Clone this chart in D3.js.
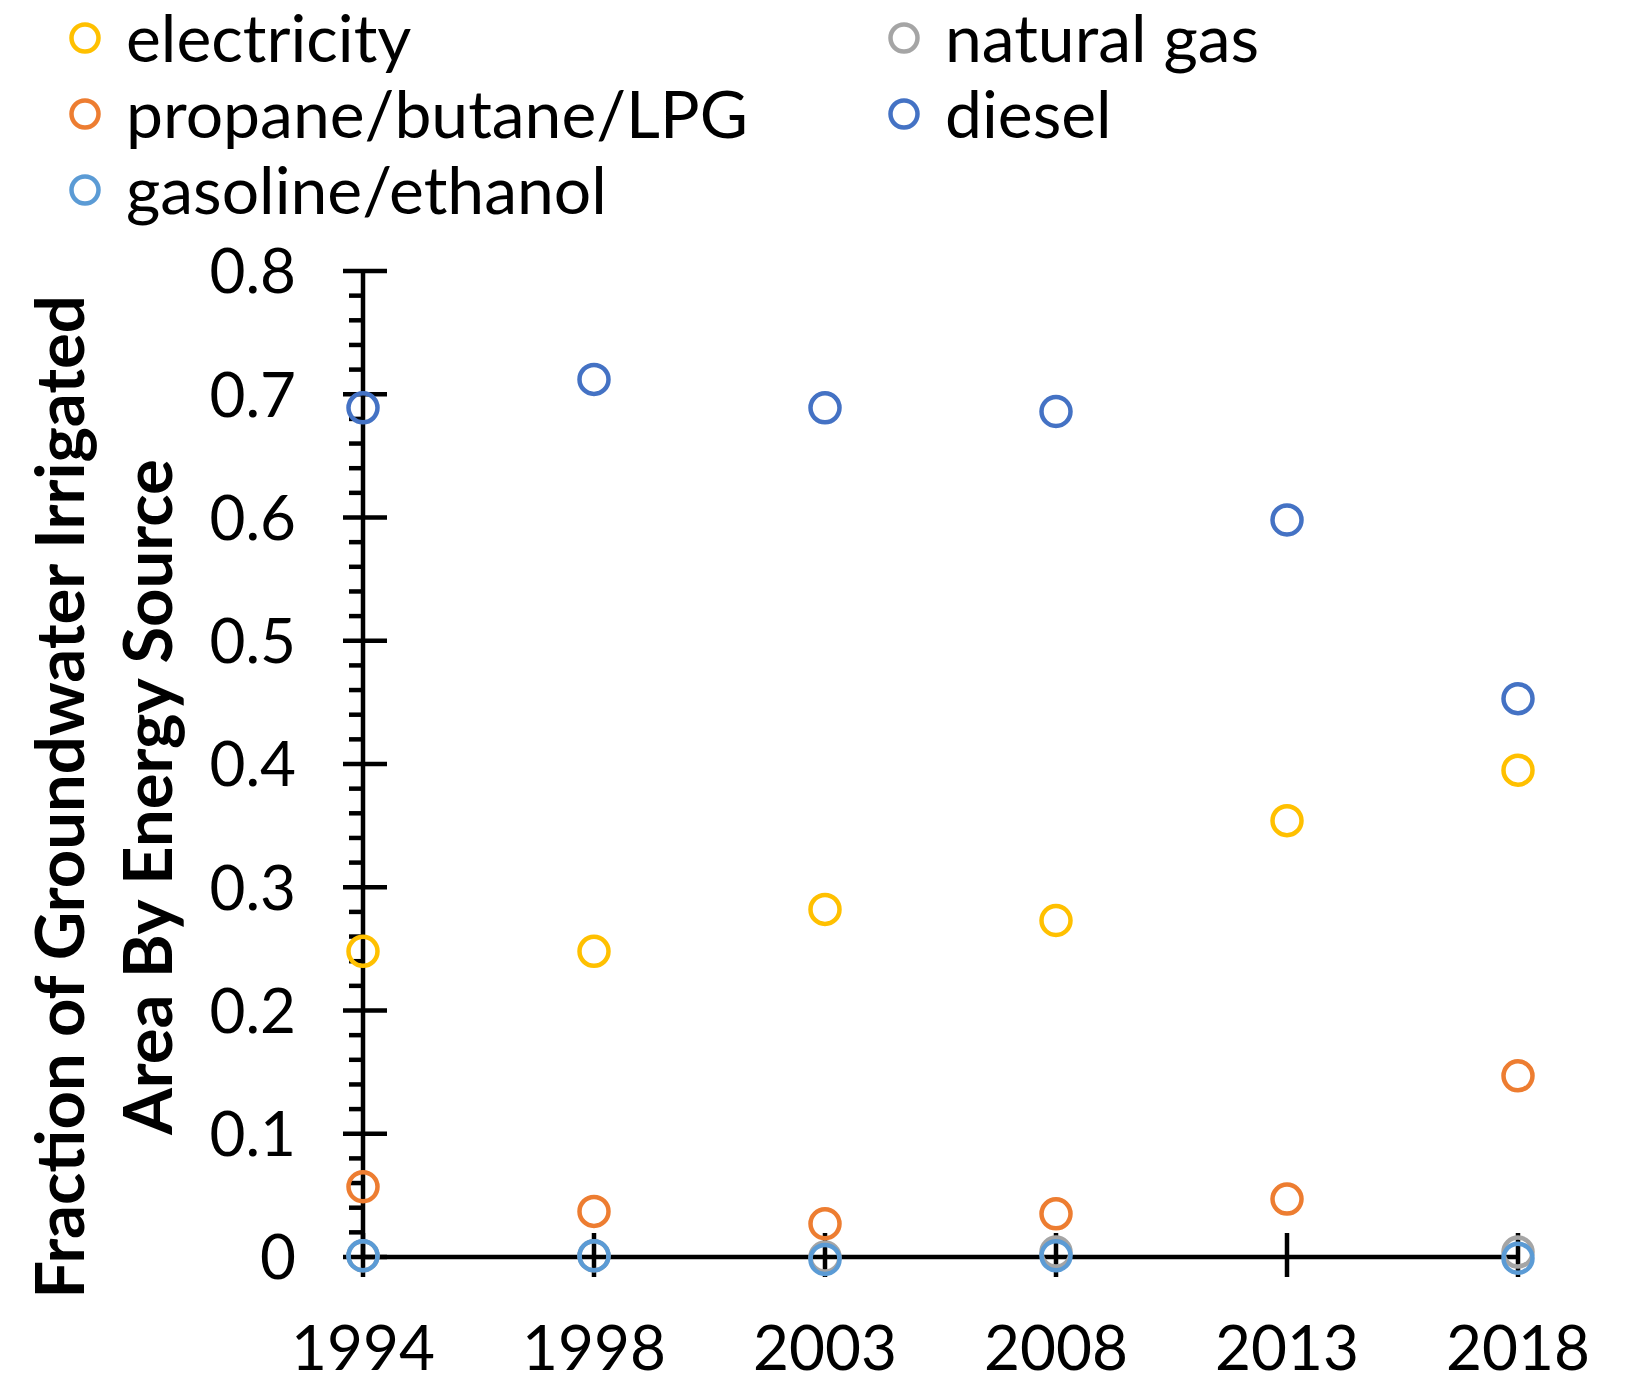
<!DOCTYPE html>
<html>
<head>
<meta charset="utf-8">
<script src="https://cdn.jsdelivr.net/npm/d3@7"></script>
<style>
  body { margin: 0; background: #fff; }
  text { font-family: Lato, "Open Sans", sans-serif; fill: #000; }
</style>
</head>
<body>
<div class="svgcontainer"></div>
<script>
// categories and series values
const years = ["1994", "1998", "2003", "2008", "2013", "2018"];
const electricity = [0.248, 0.248, 0.282, 0.273, 0.354, 0.395];
const naturalGas = [0.001, 0.001, 0.0, 0.004, null, 0.004];
const propane = [0.057, 0.037, 0.027, 0.035, 0.047, 0.147];
const diesel = [0.689, 0.712, 0.689, 0.686, 0.598, 0.453];
const gasoline = [0.001, 0.001, -0.002, 0.001, null, -0.001];
const yTicks = [0, 0.1, 0.2, 0.3, 0.4, 0.5, 0.6, 0.7, 0.8];

// series in Excel order (legend reads row-wise)
const series = [
    { name: "electricity", values: electricity, color: "#FFC000" },
    { name: "natural gas", values: naturalGas, color: "#A5A5A5" },
    { name: "propane/butane/LPG", values: propane, color: "#ED7D31" },
    { name: "diesel", values: diesel, color: "#4472C4" },
    { name: "gasoline/ethanol", values: gasoline, color: "#5B9BD5" }
];

const W = 1625, H = 1399;
const margin = { top: 271, right: 107, bottom: 142, left: 363 };
const width = W - margin.left - margin.right;
const height = H - margin.top - margin.bottom;

const svg = d3.select('.svgcontainer')
    .append('svg')
    .attr('width', W)
    .attr('height', H);

const g = svg.append('g')
    .attr('transform', `translate(${margin.left}, ${margin.top})`);

const x = d3.scalePoint().domain(years).range([0, width]);
const y = d3.scaleLinear().domain([0, 0.8]).range([height, 0]);

const sw = 4.5;

// minor ticks on the y axis, every 0.02, left side only
const minor = d3.range(0, 0.8001, 0.02).filter(v => Math.abs(v * 10 - Math.round(v * 10)) > 1e-6);
g.selectAll('.minor')
    .data(minor)
    .enter()
    .append('line')
    .attr('x1', -14).attr('x2', 0)
    .attr('y1', d => y(d)).attr('y2', d => y(d))
    .attr('stroke', '#000').attr('stroke-width', sw);

// major y ticks cross the axis
g.selectAll('.ymajor')
    .data(yTicks)
    .enter()
    .append('line')
    .attr('x1', -20).attr('x2', 24)
    .attr('y1', d => y(d)).attr('y2', d => y(d))
    .attr('stroke', '#000').attr('stroke-width', sw);

g.selectAll('.ylabel')
    .data(yTicks)
    .enter()
    .append('text')
    .attr('x', -67)
    .attr('y', d => y(d))
    .attr('dy', '0.36em')
    .attr('text-anchor', 'end')
    .style('font-size', '62px')
    .text(d => d === 0 ? "0" : d.toFixed(1));

// x ticks cross the axis
g.selectAll('.xtick')
    .data(years)
    .enter()
    .append('line')
    .attr('x1', d => x(d)).attr('x2', d => x(d))
    .attr('y1', height - 24).attr('y2', height + 20)
    .attr('stroke', '#000').attr('stroke-width', sw);

g.selectAll('.xlabel')
    .data(years)
    .enter()
    .append('text')
    .attr('x', d => x(d))
    .attr('y', height + 113)
    .attr('text-anchor', 'middle')
    .style('font-size', '62px')
    .text(d => d);

// axis lines
g.append('line')
    .attr('x1', 0).attr('x2', 0).attr('y1', 0).attr('y2', height)
    .attr('stroke', '#000').attr('stroke-width', sw);
g.append('line')
    .attr('x1', 0).attr('x2', width).attr('y1', height).attr('y2', height)
    .attr('stroke', '#000').attr('stroke-width', sw);

// markers
series.forEach(s => {
    g.selectAll(null)
        .data(years.map((yr, i) => ({ yr, v: s.values[i] })).filter(d => d.v !== null))
        .enter()
        .append('circle')
        .attr('cx', d => x(d.yr))
        .attr('cy', d => y(d.v))
        .attr('r', 14.5)
        .attr('fill', 'none')
        .attr('stroke', s.color)
        .attr('stroke-width', 4.5);
});

// y axis title, two lines
const title = svg.append('text')
    .attr('transform', 'translate(106, 797) rotate(-90)')
    .attr('text-anchor', 'middle')
    .style('font-size', '67px')
    .style('font-weight', 'bold');
title.append('tspan').attr('x', 0).attr('y', -22).text('Fraction of Groundwater Irrigated');
title.append('tspan').attr('x', 0).attr('y', 66).text('Area By Energy Source');

// legend, filled row-wise in two columns
const legendPos = [
    { cx: 85, cy: 38 }, { cx: 904, cy: 38 },
    { cx: 85, cy: 114 }, { cx: 904, cy: 114 },
    { cx: 85, cy: 190 }
];
const leg = svg.selectAll('.legend')
    .data(series)
    .enter()
    .append('g')
    .attr('class', 'legend')
    .attr('transform', (d, i) => `translate(${legendPos[i].cx}, ${legendPos[i].cy})`);

leg.append('circle')
    .attr('r', 13.5)
    .attr('fill', 'none')
    .attr('stroke', d => d.color)
    .attr('stroke-width', 4.5);

leg.append('text')
    .attr('x', 41)
    .attr('dy', '0.36em')
    .style('font-size', '66px')
    .text(d => d.name);
</script>
</body>
</html>
